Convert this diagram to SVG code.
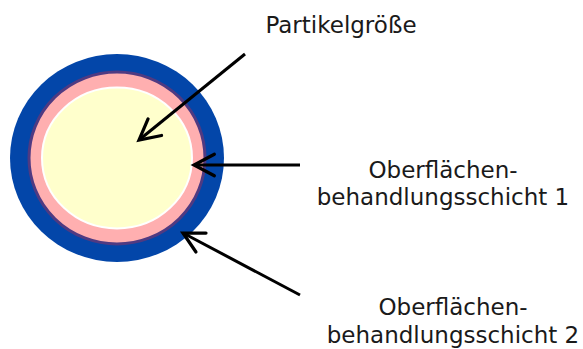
<svg xmlns="http://www.w3.org/2000/svg" width="583" height="349" viewBox="0 0 583 349">
<defs>
<style>
text{font-family:"DejaVu Sans","Verdana",sans-serif;font-size:23px;fill:#1a1a1a;text-anchor:middle}
.conn line{stroke:#000;stroke-width:3;fill:none;marker-end:url(#arr)}
</style>
<marker id="arr" markerUnits="userSpaceOnUse" markerWidth="30" markerHeight="30" refX="0" refY="0" viewBox="-22 -14 26 28" orient="auto">
<path d="M-19,-10 L0,0 L-19,10" fill="none" stroke="#000" stroke-width="3" stroke-linecap="round" stroke-linejoin="miter"/>
</marker>
</defs>
<rect width="583" height="349" fill="#fff"/>
<g id="particle">
<ellipse cx="117" cy="158" rx="107" ry="104" fill="#0346A9"/>
<ellipse cx="117" cy="158" rx="88" ry="86" fill="#FFAFB0" stroke="#4F3A82" stroke-width="3"/>
<ellipse cx="117" cy="158" rx="75" ry="70.5" fill="#FFFFCC" stroke="#fff" stroke-width="2"/>
</g>
<g class="conn" id="connectors">
<line x1="245" y1="54" x2="139" y2="140"/>
<line x1="300" y1="165" x2="194" y2="165"/>
<line x1="300" y1="295" x2="183" y2="233"/>
</g>
<g id="label-partikel"><text x="341" y="33">Partikelgröße</text></g>
<g id="label-schicht1"><text x="443" y="178">Oberflächen-</text><text x="443" y="205">behandlungsschicht 1</text></g>
<g id="label-schicht2"><text x="453" y="315">Oberflächen-</text><text x="453" y="343">behandlungsschicht 2</text></g>
</svg>
